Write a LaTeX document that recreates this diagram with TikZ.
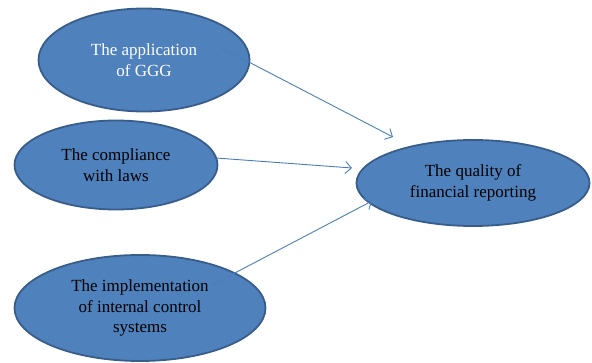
\documentclass[tikz,border=0pt]{standalone}
\usepackage{fontspec}
\setmainfont{Liberation Serif}
\usetikzlibrary{shapes.geometric,arrows.meta}
\definecolor{efill}{HTML}{4F81BD}
\definecolor{edraw}{HTML}{385D8A}
\definecolor{aline}{HTML}{4A7EBB}
\tikzset{
  bub/.style={ellipse, fill=efill, draw=edraw, line width=1.8pt, inner sep=0pt,
    align=center, font=\fontsize{17}{20.5}\selectfont},
  conn/.style={draw=aline, line width=0.9pt, -{Straight Barb[length=6pt,width=12pt]}}
}
\begin{document}
\begin{tikzpicture}[x=1pt,y=-1pt]
\useasboundingbox (0,0) rectangle (592,363);
\node[bub, minimum width=211pt, minimum height=103pt, text=white] (e1) at (144,60) {The application\\of GGG};
\node[bub, minimum width=203pt, minimum height=89pt] (e2) at (116,165) {The compliance\\with laws};
\node[bub, minimum width=233pt, minimum height=86pt] (e3) at (473,183) {The quality of\\financial reporting};
\node[bub, minimum width=251pt, minimum height=106pt] (e4) at (140,308) {The implementation\\of internal control\\systems};
\coordinate (s1) at (220,47);
\coordinate (t1) at (393,137);
\coordinate (s2) at (216,158);
\coordinate (t2) at (352,168);
\coordinate (s3) at (212,285);
\coordinate (t3) at (372,201);
\draw[conn] (s1) -- (t1);
\draw[conn] (s2) -- (t2);
\draw[conn] (s3) -- (t3);
\end{tikzpicture}
\end{document}
